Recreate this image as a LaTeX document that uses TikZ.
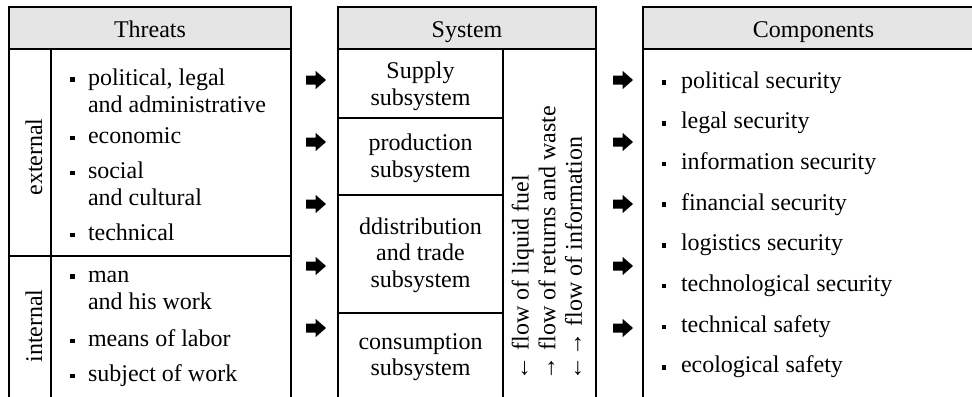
\documentclass[tikz,border=0pt]{standalone}
\usepackage{fontspec}
\setmainfont{Liberation Serif}
\begin{document}
\begin{tikzpicture}[x=0.5pt,y=-0.5pt,
  line width=1pt,
  every node/.style={inner sep=0pt, outer sep=0pt, font=\fontsize{12}{13.3}\selectfont},
  hdr/.style={fill=gray!20, draw=black},
  item/.style={anchor=base west},
  head/.style={anchor=base},
  cell/.style={align=center, anchor=center},
  side/.style={rotate=90, anchor=center},
  bul/.style={fill=black, minimum size=2.3pt, inner sep=0pt, anchor=center},
  barrow/.pic={\fill (-10,-4.5) -- (-0.5,-4.5) -- (-0.5,-9.2) -- (10,0) -- (-0.5,9.2) -- (-0.5,4.5) -- (-10,4.5) -- cycle;}
]
\useasboundingbox (0,0) rectangle (972,396);
\clip (0,0) rectangle (972,396);

% headers
\filldraw[hdr] (9,7) rectangle (291,49);
\filldraw[hdr] (338,7) rectangle (596,49);
\filldraw[hdr] (643,7) rectangle (990,49);
\node[head] (hThreats) at (150,37.5) {Threats};
\node[head] (hSystem) at (467,37.5) {System};
\node[head] (hComp) at (813.5,37.5) {Components};

% Threats box
\draw (9,49) -- (9,400);
\draw (291,49) -- (291,400);
\draw (51,49) -- (51,400);
\draw (9,256) -- (291,256);
\node[side] (ext) at (33.8,157) {external};
\node[side] (int) at (33.8,326) {internal};

\foreach \yy [count=\i] in {85,143.5,178.5,240.5,282,346.5,381.5}
  \node[bul] (tb\i) at (72.3,\yy-5.4) {};
\node[item] (t1) at (88,85) {political, legal};
\node[item] (t2) at (88,112) {and administrative};
\node[item] (t3) at (88,143.5) {economic};
\node[item] (t4) at (88,178.5) {social};
\node[item] (t5) at (88,205.5) {and cultural};
\node[item] (t6) at (88,240.5) {technical};
\node[item] (t7) at (88,282) {man};
\node[item] (t8) at (88,309) {and his work};
\node[item] (t9) at (88,346.5) {means of labor};
\node[item] (t10) at (88,381.5) {subject of work};

% System box
\draw (338,49) -- (338,400);
\draw (596,49) -- (596,400);
\draw (503,49) -- (503,400);
\draw (338,118) -- (503,118);
\draw (338,195) -- (503,195);
\draw (338,313) -- (503,313);
\node[cell] (s1) at (420.5,86) {Supply\\subsystem};
\node[cell] (s2) at (420.5,158) {production\\subsystem};
\node[cell] (s3) at (420.5,255) {ddistribution\\and trade\\subsystem};
\node[cell] (s4) at (420.5,357) {consumption\\subsystem};
\node[rotate=90, anchor=west, align=left] (flows) at (547,380)
  {← flow of liquid fuel\\→ flow of returns and waste\\←→ flow of information};

% Components box
\draw (643,49) -- (643,400);
\foreach \t [count=\i] in {political security, legal security, information security,
  financial security, logistics security, technological security,
  technical safety, ecological safety}{
  \node[bul] (cb\i) at (664,88+40.7*\i-40.7-5.4) {};
  \node[item] (c\i) at (681,88+40.7*\i-40.7) {\t};
}

% block arrows
\foreach \yy in {80,142,204,266,328}{
  \pic at (316,\yy) {barrow};
  \pic at (623,\yy) {barrow};
}
\end{tikzpicture}
\end{document}
